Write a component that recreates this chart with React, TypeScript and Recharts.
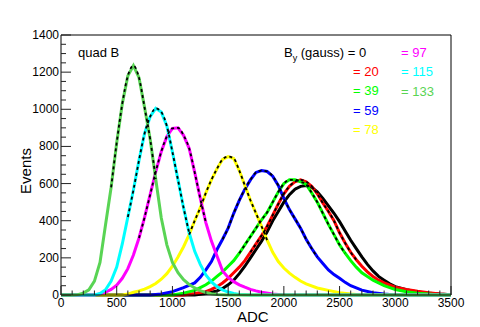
import { LineChart, Line, XAxis, YAxis } from 'recharts';

// ADC spectra for quad B at several B_y values: [ADC, events]
const by0 = [
  [0, 0], [1200, 0], [1300, 8], [1400, 22], [1450, 35], [1500, 55], [1550, 80], [1600, 115],
  [1650, 155], [1700, 200], [1750, 245], [1800, 290], [1850, 340], [1900, 400], [1950, 450],
  [2000, 500], [2050, 540], [2100, 570], [2150, 585], [2200, 590], [2250, 580], [2300, 555],
  [2350, 520], [2400, 480], [2450, 440], [2500, 395], [2550, 345], [2600, 295], [2650, 250],
  [2700, 205], [2750, 165], [2800, 130], [2850, 100], [2900, 80], [2950, 60], [3000, 45],
  [3100, 28], [3200, 16], [3300, 10], [3400, 5], [3500, 2],
];
const by20 = [
  [0, 0], [1100, 0], [1200, 8], [1300, 18], [1350, 30], [1400, 45], [1450, 65], [1500, 90],
  [1550, 120], [1600, 150], [1650, 185], [1700, 230], [1750, 275], [1800, 320], [1850, 370],
  [1900, 430], [1950, 490], [2000, 545], [2050, 585], [2100, 610], [2150, 620], [2200, 610],
  [2250, 585], [2300, 545], [2350, 495], [2400, 450], [2450, 400], [2500, 335], [2550, 280],
  [2600, 230], [2650, 190], [2700, 155], [2750, 125], [2800, 100], [2850, 80], [2900, 65],
  [3000, 42], [3100, 30], [3200, 20], [3300, 12], [3400, 6], [3500, 2],
];
const by39 = [
  [0, 0], [1000, 0], [1100, 10], [1200, 25], [1250, 40], [1300, 55], [1350, 75], [1400, 100],
  [1450, 125], [1500, 155], [1550, 185], [1600, 225], [1650, 270], [1700, 315], [1750, 360],
  [1800, 405], [1850, 445], [1900, 500], [1950, 555], [2000, 600], [2050, 620], [2100, 620],
  [2150, 610], [2200, 595], [2250, 550], [2300, 500], [2350, 440], [2400, 380], [2450, 325],
  [2500, 270], [2550, 225], [2600, 185], [2650, 150], [2700, 120], [2750, 100], [2800, 80],
  [2900, 50], [3000, 30], [3100, 18], [3200, 10], [3300, 5], [3400, 0], [3500, 0],
];
const by59 = [
  [0, 0], [800, 0], [900, 5], [1000, 18], [1100, 40], [1200, 65], [1250, 95], [1300, 135],
  [1350, 180], [1400, 245], [1450, 300], [1500, 360], [1550, 440], [1600, 510], [1650, 570],
  [1700, 620], [1750, 660], [1800, 670], [1850, 665], [1900, 640], [1950, 590], [2000, 520],
  [2050, 460], [2100, 410], [2150, 360], [2200, 300], [2250, 250], [2300, 205], [2350, 170],
  [2400, 135], [2450, 110], [2500, 90], [2550, 68], [2600, 50], [2650, 38], [2700, 26],
  [2800, 12], [2900, 5], [3000, 0], [3500, 0],
];
const by78 = [
  [0, 0], [550, 0], [600, 5], [650, 15], [700, 22], [750, 32], [800, 45], [850, 62], [900, 85],
  [950, 115], [1000, 155], [1050, 205], [1100, 260], [1150, 325], [1200, 400], [1250, 470],
  [1300, 550], [1350, 620], [1400, 680], [1450, 730], [1500, 745], [1550, 735], [1600, 670],
  [1650, 590], [1700, 510], [1750, 440], [1800, 370], [1850, 295], [1900, 230], [1950, 180],
  [2000, 145], [2050, 118], [2100, 95], [2150, 75], [2200, 60], [2300, 38], [2400, 25],
  [2500, 12], [2600, 5], [2700, 0], [3500, 0],
];
const by97 = [
  [0, 0], [300, 0], [350, 6], [400, 16], [450, 30], [500, 53], [550, 90], [600, 142],
  [650, 215], [700, 307], [750, 418], [800, 540], [850, 663], [900, 772], [950, 854],
  [1000, 897], [1050, 900], [1100, 860], [1150, 790], [1200, 660], [1250, 520], [1300, 390],
  [1350, 290], [1400, 210], [1450, 130], [1500, 95], [1550, 72], [1600, 55], [1650, 42],
  [1700, 30], [1750, 22], [1800, 15], [1900, 6], [2000, 0], [3500, 0],
];
const by115 = [
  [0, 0], [300, 0], [350, 8], [400, 28], [450, 75], [500, 150], [550, 275], [600, 420],
  [650, 565], [700, 725], [750, 870], [800, 960], [850, 1005], [900, 985], [950, 910],
  [1000, 770], [1050, 620], [1100, 470], [1150, 335], [1200, 235], [1250, 165], [1300, 108],
  [1350, 70], [1400, 45], [1450, 28], [1500, 16], [1550, 8], [1600, 3], [1700, 0], [3500, 0],
];
const by133 = [
  [0, 0], [100, 0], [150, 2], [200, 10], [250, 28], [300, 75], [350, 175], [400, 380],
  [450, 580], [500, 820], [550, 1030], [600, 1180], [650, 1235], [700, 1170], [750, 1010],
  [800, 840], [850, 625], [900, 415], [950, 270], [1000, 175], [1050, 120], [1100, 82],
  [1150, 57], [1200, 38], [1250, 24], [1300, 13], [1350, 7], [1400, 3], [1500, 0], [3500, 0],
];

// ADC window of each Gaussian fit (dashed)
const fit0 = [1750, 2700];
const fit20 = [1700, 2650];
const fit39 = [1600, 2550];
const fit59 = [1450, 2300];
const fit78 = [1120, 1880];
const fit97 = [700, 1340];
const fit115 = [560, 1170];
const fit133 = [450, 850];

const adcLabels = [0, 500, 1000, 1500, 2000, 2500, 3000, 3500];
const eventLabels = [0, 200, 400, 600, 800, 1000, 1200, 1400];

const series = [
  { name: '0', data: by0, fit: fit0, color: '#000000' },
  { name: '20', data: by20, fit: fit20, color: '#ff0000' },
  { name: '39', data: by39, fit: fit39, color: '#00ff00' },
  { name: '59', data: by59, fit: fit59, color: '#0000ff' },
  { name: '78', data: by78, fit: fit78, color: '#ffff00' },
  { name: '97', data: by97, fit: fit97, color: '#ff00ff' },
  { name: '115', data: by115, fit: fit115, color: '#00ffff' },
  { name: '133', data: by133, fit: fit133, color: '#59d454' },
];

const toPoints = (rows: number[][]) => rows.map(([x, y]) => ({ x, y }));
const inFit = (rows: number[][], [lo, hi]: number[]) =>
  toPoints(rows.filter(([x]) => x >= lo && x <= hi));

const xTicks = Array.from({ length: 36 }, (_, i) => i * 100);
const yTicks = Array.from({ length: 29 }, (_, i) => i * 50);

const font = '"Liberation Sans", Arial, sans-serif';

const XTick = ({ x, y, payload, dir, showLabel }: any) => {
  const major = adcLabels.includes(payload.value);
  const len = major ? 9 : 4.5;
  return (
    <g>
      <line x1={x} x2={x} y1={y} y2={y + dir * len} stroke="#222" />
      {showLabel && major && (
        <text x={x} y={y + 12} textAnchor="middle" fontSize={12} fontFamily={font} fill="#000">
          {payload.value}
        </text>
      )}
    </g>
  );
};

const YTick = ({ x, y, payload, dir, showLabel }: any) => {
  const major = eventLabels.includes(payload.value);
  const len = major ? 10 : 5;
  return (
    <g>
      <line x1={x} x2={x + dir * len} y1={y} y2={y} stroke="#222" />
      {showLabel && major && (
        <text x={x - 2} y={y + 4} textAnchor="end" fontSize={12} fontFamily={font} fill="#000">
          {payload.value}
        </text>
      )}
    </g>
  );
};

const legendLeft = [
  { text: '= 20', color: '#ff0000' },
  { text: '= 39', color: '#00ff00' },
  { text: '= 59', color: '#0000ff' },
  { text: '= 78', color: '#ffff00' },
];
const legendRight = [
  { text: '= 97', color: '#ff00ff' },
  { text: '= 115', color: '#00ffff' },
  { text: '= 133', color: '#59d454' },
];

const txt = (left: number, top: number, extra: any = {}) => ({
  position: 'absolute' as const,
  left,
  top,
  fontFamily: font,
  fontSize: 13,
  lineHeight: '14px',
  whiteSpace: 'nowrap' as const,
  ...extra,
});

export default function App() {
  return (
    <div style={{ position: 'relative', width: 480, height: 327, background: '#fff' }}>
      <style>{'body{margin:0}'}</style>
      <LineChart width={480} height={327} margin={{ top: 34, right: 28, bottom: 31, left: 60 }}>
        <XAxis
          xAxisId="b"
          dataKey="x"
          type="number"
          domain={[0, 3500]}
          ticks={xTicks}
          interval={0}
          height={1}
          tickSize={0}
          tickMargin={0}
          tickLine={false}
          stroke="#000"
          tick={<XTick dir={-1} showLabel />}
        />
        <XAxis
          xAxisId="t"
          orientation="top"
          dataKey="x"
          type="number"
          domain={[0, 3500]}
          ticks={xTicks}
          interval={0}
          height={1}
          tickSize={0}
          tickMargin={0}
          tickLine={false}
          stroke="#000"
          tick={<XTick dir={1} />}
        />
        <YAxis
          yAxisId="l"
          type="number"
          domain={[0, 1400]}
          ticks={yTicks}
          interval={0}
          width={1}
          tickSize={0}
          tickMargin={0}
          tickLine={false}
          stroke="#000"
          tick={<YTick dir={1} showLabel />}
        />
        <YAxis
          yAxisId="r"
          orientation="right"
          type="number"
          domain={[0, 1400]}
          ticks={yTicks}
          interval={0}
          width={1}
          tickSize={0}
          tickMargin={0}
          tickLine={false}
          stroke="#000"
          tick={<YTick dir={-1} />}
        />
        {series.map((s) => (
          <Line
            key={s.name}
            xAxisId="b"
            yAxisId="l"
            data={toPoints(s.data)}
            dataKey="y"
            type="linear"
            stroke={s.color}
            strokeWidth={3}
            dot={false}
            isAnimationActive={false}
          />
        ))}
        {series.map((s) => (
          <Line
            key={'fit' + s.name}
            xAxisId="b"
            yAxisId="l"
            data={inFit(s.data, s.fit)}
            dataKey="y"
            type="monotone"
            stroke="#000"
            strokeWidth={1.8}
            strokeDasharray="3 3"
            dot={false}
            isAnimationActive={false}
          />
        ))}
      </LineChart>
      <div style={txt(78, 46)}>quad B</div>
      <div style={txt(284, 46)}>
        B<sub style={{ fontSize: 9 }}>y</sub> (gauss) = 0
      </div>
      {legendLeft.map((l, i) => (
        <div key={l.text} style={txt(353, 65 + i * 19.3, { color: l.color })}>
          {l.text}
        </div>
      ))}
      {legendRight.map((l, i) => (
        <div key={l.text} style={txt(401, 46 + i * 19.3, { color: l.color })}>
          {l.text}
        </div>
      ))}
      <div style={txt(237, 308, { fontSize: 15, lineHeight: '17px' })}>ADC</div>
      <div
        style={txt(25, 171, {
          fontSize: 15,
          lineHeight: '17px',
          transform: 'translate(-50%, -50%) rotate(-90deg)',
          transformOrigin: 'center',
        })}
      >
        Events
      </div>
    </div>
  );
}
